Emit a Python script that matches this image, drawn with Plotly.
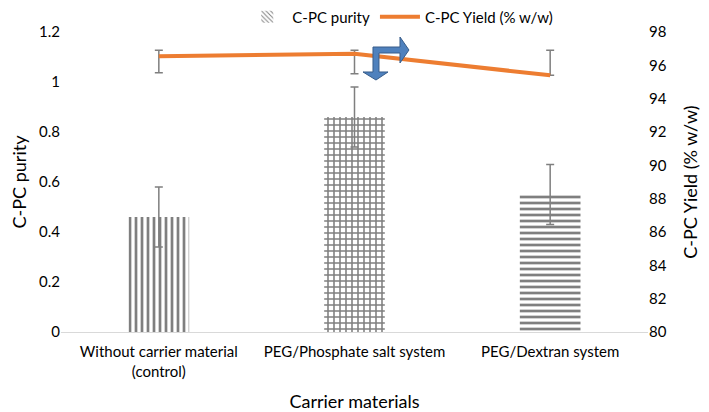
import plotly.graph_objects as go

categories = ["Without carrier material<br>(control)", "PEG/Phosphate salt system", "PEG/Dextran system"]
purity = [0.46, 0.86, 0.55]
purity_err = [0.12, 0.12, 0.12]
patterns = ["|", "+", "-"]
yield_pct = [96.55, 96.7, 95.4]
yield_err_plus = [0.35, 0.2, 1.5]
yield_err_minus = [1.0, 1.2, 0.0]

FONT = "Lato"
# the page body has an 8px margin, so the figure is drawn 8px smaller
PAGE_OFF = 8
W, H = 709 - PAGE_OFF, 412 - PAGE_OFF
# plot area in window pixels, used for margins and the arrow decoration
L, R, T, B = 61, 648, 32, 332


def px(x, y):
    return (x - L) / (R - L), (B - y) / (B - T)


def arrow_path(points):
    pts = [px(x, y) for x, y in points]
    return "M " + " L ".join(f"{a:.4f},{b:.4f}" for a, b in pts) + " Z"


fig = go.Figure()

# legend-only swatch (Excel shows a diagonal hatch in the legend)
fig.add_bar(
    x=categories,
    y=[None] * len(categories),
    name="C-PC purity",
    marker=dict(color="white", line=dict(width=0),
                pattern=dict(shape="\\", fgcolor="black", bgcolor="white", size=4, solidity=0.3)),
    hoverinfo="skip",
)
fig.add_bar(
    x=categories,
    y=purity,
    name="C-PC purity",
    showlegend=False,
    width=0.31,
    marker=dict(color="white", line=dict(width=0),
                pattern=dict(shape=patterns, fgcolor="black", bgcolor="white", size=6, solidity=0.45)),
    error_y=dict(type="data", array=purity_err, color="#7f7f7f", thickness=1.5, width=4),
)
fig.add_scatter(
    x=categories,
    y=yield_pct,
    name="C-PC Yield (% w/w)",
    mode="lines",
    yaxis="y2",
    line=dict(color="#ed7d31", width=4),
    error_y=dict(type="data", symmetric=False, array=yield_err_plus, arrayminus=yield_err_minus,
                 color="#7f7f7f", thickness=1.5, width=4),
)

# bent blue arrow drawn in the original figure
fig.add_shape(
    type="path", xref="paper", yref="paper",
    path=arrow_path([
        (373, 47), (400, 47), (400, 37), (409, 50), (400, 63), (400, 53),
        (379, 53), (379, 72), (388, 72), (376, 80), (363, 72), (373, 72),
    ]),
    fillcolor="#4f81bd", line=dict(color="#385d8a", width=1),
)

fig.update_layout(
    width=W,
    height=H,
    margin=dict(l=L - PAGE_OFF, r=W - (R - PAGE_OFF), t=T - PAGE_OFF, b=H - (B - PAGE_OFF),
                autoexpand=False),
    paper_bgcolor="white",
    plot_bgcolor="white",
    barmode="overlay",
    font=dict(family=FONT, size=15, color="black"),
    legend=dict(orientation="h", x=0.578, xanchor="center", y=1.05, yanchor="middle",
                font=dict(size=15), itemwidth=40, traceorder="normal"),
    xaxis=dict(
        title=dict(text="Carrier materials", standoff=16),
        showgrid=False, showline=True, linecolor="#d9d9d9", linewidth=1,
        ticks="", tickfont=dict(size=15), automargin=False, ticklabelstandoff=6,
    ),
    yaxis=dict(
        title=dict(text="C-PC purity", standoff=16),
        range=[0, 1.2], dtick=0.2, showgrid=False, zeroline=False,
        ticks="", tickfont=dict(size=15), automargin=False,
    ),
    yaxis2=dict(
        title=dict(text="C-PC Yield (% w/w)", standoff=18),
        range=[80, 98], dtick=2, overlaying="y", side="right",
        showgrid=False, zeroline=False, ticks="", tickfont=dict(size=15), automargin=False,
    ),
)

fig.write_html("out.html")
